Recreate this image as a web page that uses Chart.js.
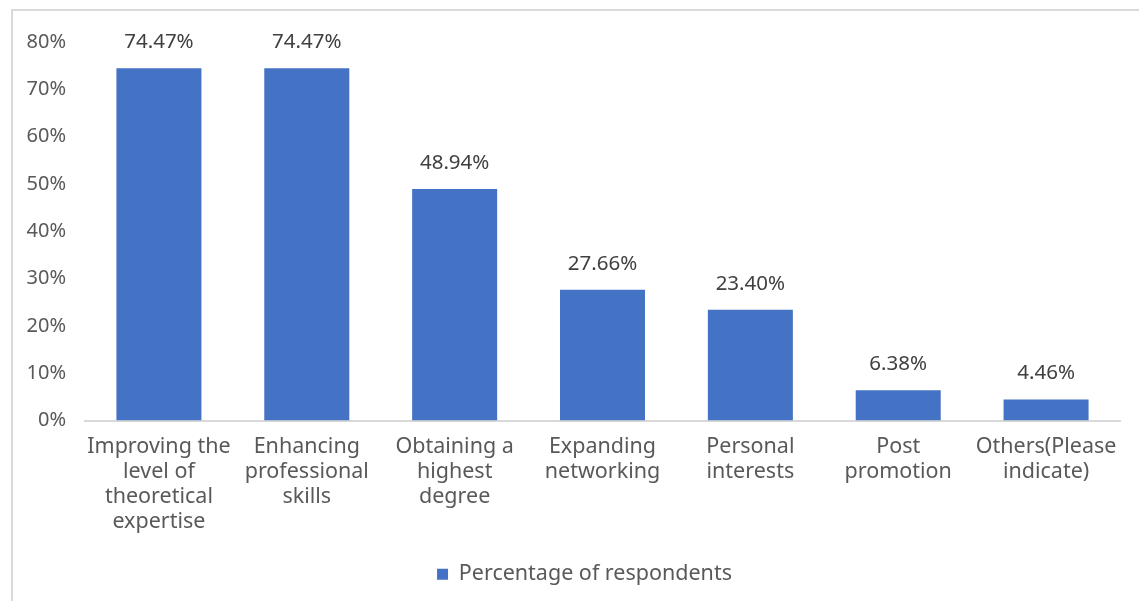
<!DOCTYPE html>
<html>
<head>
<meta charset="utf-8">
<script src="https://cdn.jsdelivr.net/npm/chart.js@4"></script>
<style>
  html, body { margin: 0; padding: 0; background: #fff; }
  #wrap {
    position: absolute; left: 11px; top: 9px; width: 1128px; height: 592px;
    border-left: 2px solid #d9d9d9; border-top: 2px solid #d9d9d9;
    box-sizing: border-box;
  }
</style>
</head>
<body>
<div id="wrap"><canvas id="chart"></canvas></div>
<script>
const categories = [
    ['Improving the', 'level of', 'theoretical', 'expertise'],
    ['Enhancing', 'professional', 'skills'],
    ['Obtaining a', 'highest', 'degree'],
    ['Expanding', 'networking'],
    ['Personal', 'interests'],
    ['Post', 'promotion'],
    ['Others(Please', 'indicate)']
];
const percentages = [74.47, 74.47, 48.94, 27.66, 23.40, 6.38, 4.46];
const yTicks = [0, 10, 20, 30, 40, 50, 60, 70, 80];

const fontFamily = '"Noto Sans", "Liberation Sans", sans-serif';

// draw the value above each bar
const barLabels = {
    id: 'barLabels',
    afterLayout(chart) {
        // legend sits a bit right of the canvas centre in the original
        chart.legend.left += 18;
        chart.legend.right += 18;
    },
    afterDatasetsDraw(chart) {
        const c = chart.ctx;
        const meta = chart.getDatasetMeta(0);
        c.save();
        c.font = '20.5px ' + fontFamily;
        c.fillStyle = '#404040';
        c.textAlign = 'center';
        c.textBaseline = 'alphabetic';
        meta.data.forEach((bar, i) => {
            c.fillText(percentages[i].toFixed(2) + '%', bar.x, bar.y - 20);
        });
        c.restore();
    }
};

const ctx = document.getElementById('chart').getContext('2d');
const chart = new Chart(ctx, {
    type: 'bar',
    data: {
        labels: categories,
        datasets: [{
            label: 'Percentage of respondents',
            data: percentages,
            backgroundColor: '#4472c4',
            borderWidth: 0,
            barPercentage: 0.575,
            categoryPercentage: 1.0
        }]
    },
    options: {
        responsive: true,
        maintainAspectRatio: false,
        animation: false,
        layout: { padding: { top: 18, right: 19, left: 0, bottom: 6 } },
        plugins: {
            legend: {
                position: 'bottom',
                labels: {
                    color: '#595959',
                    font: { family: fontFamily, size: 21.5 },
                    boxWidth: 11,
                    boxHeight: 11,
                    padding: 15
                }
            },
            tooltip: { enabled: false }
        },
        scales: {
            x: {
                grid: { display: false, drawTicks: false },
                border: { color: '#d9d9d9', width: 2 },
                ticks: {
                    color: '#595959',
                    font: { family: fontFamily, size: 21.5, lineHeight: '25px' },
                    maxRotation: 0,
                    autoSkip: false,
                    padding: 14
                }
            },
            y: {
                min: 0,
                max: 80,
                afterBuildTicks(axis) {
                    axis.ticks = yTicks.map(v => ({ value: v }));
                },
                afterFit(scale) {
                    scale.width = 72;
                },
                grid: { display: false, drawTicks: false },
                border: { display: false },
                ticks: {
                    color: '#595959',
                    font: { family: fontFamily, size: 20 },
                    padding: 19,
                    callback: v => v + '%'
                }
            }
        }
    },
    plugins: [barLabels]
});
</script>
</body>
</html>
